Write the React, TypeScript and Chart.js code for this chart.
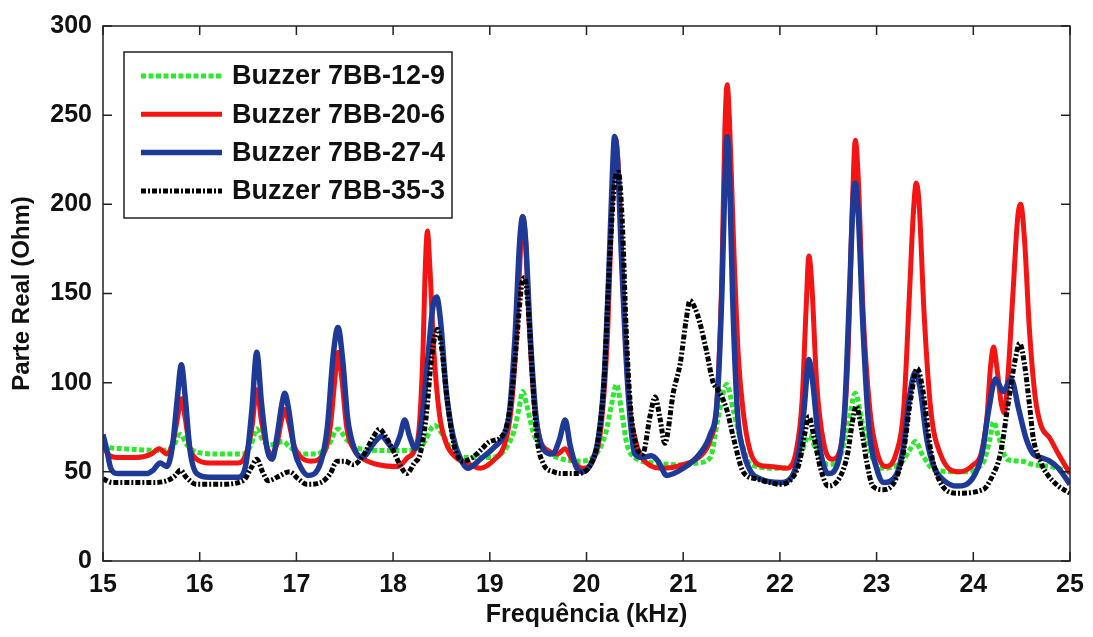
import React, { useEffect, useRef } from 'react';
import { Chart, registerables } from 'chart.js';

Chart.register(...registerables);

const FONT = '"Liberation Sans", Arial, Helvetica, sans-serif';

const seriesLabels = ['Buzzer 7BB-12-9', 'Buzzer 7BB-20-6', 'Buzzer 7BB-27-4', 'Buzzer 7BB-35-3'];
const xTickValues = [15, 16, 17, 18, 19, 20, 21, 22, 23, 24, 25];
const yTickValues = [0, 50, 100, 150, 200, 250, 300];

// Buzzer 7BB-12-9 (green dashed)
const freqA = [15.0, 15.05, 15.2, 15.6, 15.72, 15.8, 15.87, 15.97, 16.2, 16.45, 16.53, 16.59, 16.65, 16.72, 16.8, 16.86, 16.93, 17.05, 17.2, 17.32, 17.43, 17.52, 17.65, 17.9, 18.15, 18.3, 18.43, 18.52, 18.62, 18.75, 19.0, 19.15, 19.25, 19.3, 19.34, 19.38, 19.45, 19.55, 19.7, 19.93, 20.1, 20.2, 20.26, 20.31, 20.36, 20.42, 20.5, 20.7, 20.97, 21.15, 21.28, 21.36, 21.45, 21.52, 21.59, 21.7, 22.0, 22.2, 22.3, 22.38, 22.5, 22.62, 22.7, 22.78, 22.85, 22.94, 23.04, 23.25, 23.35, 23.4, 23.47, 23.6, 23.9, 24.1, 24.17, 24.21, 24.26, 24.35, 24.5, 24.62, 24.8, 25.0];
const valA = [66, 64, 63, 62, 64, 71, 65, 61, 60, 60, 65, 74, 68, 65, 66, 67, 64, 60, 60, 64, 74, 68, 63, 62, 62, 65, 76, 70, 61, 58, 58, 62, 73, 85, 95, 88, 72, 63, 58, 56, 60, 72, 88, 99, 85, 65, 58, 55, 54, 55, 58, 80, 99, 84, 69, 54, 52, 58, 70, 62, 54, 58, 75, 94, 78, 60, 52, 55, 63, 67, 60, 51, 50, 55, 68, 78, 70, 57, 56, 54, 53, 50];

// Buzzer 7BB-20-6 (red)
const freqB = [15.0, 15.05, 15.15, 15.35, 15.5, 15.58, 15.66, 15.72, 15.77, 15.81, 15.85, 15.9, 15.97, 16.1, 16.4, 16.48, 16.54, 16.59, 16.64, 16.7, 16.75, 16.8, 16.85, 16.88, 16.92, 16.98, 17.05, 17.15, 17.28, 17.35, 17.4, 17.43, 17.47, 17.52, 17.6, 17.7, 17.85, 18.05, 18.15, 18.22, 18.27, 18.31, 18.33, 18.355, 18.38, 18.42, 18.48, 18.55, 18.65, 18.8, 18.9, 19.05, 19.15, 19.22, 19.28, 19.32, 19.34, 19.37, 19.41, 19.46, 19.52, 19.6, 19.7, 19.78, 19.85, 19.96, 20.08, 20.15, 20.22, 20.27, 20.3, 20.33, 20.38, 20.44, 20.52, 20.62, 20.8, 21.0, 21.2, 21.28, 21.35, 21.4, 21.43, 21.455, 21.48, 21.52, 21.57, 21.62, 21.69, 21.78, 21.9, 22.07, 22.17, 22.23, 22.27, 22.3, 22.33, 22.38, 22.45, 22.54, 22.63, 22.7, 22.75, 22.78, 22.81, 22.86, 22.93, 23.0, 23.09, 23.2, 23.28, 23.34, 23.38, 23.41, 23.44, 23.49, 23.56, 23.66, 23.86, 24.0, 24.08, 24.14, 24.18, 24.21, 24.24, 24.29, 24.32, 24.36, 24.41, 24.46, 24.49, 24.53, 24.58, 24.64, 24.7, 24.79, 24.88, 25.0];
const valB = [67, 60, 58, 58, 60, 63, 60, 66, 80, 91, 80, 63, 57, 55, 55, 60, 75, 96, 78, 63, 60, 66, 80, 85, 78, 64, 58, 56, 60, 75, 103, 117, 102, 75, 62, 57, 54, 53, 58, 62, 75, 119, 160, 185, 165, 119, 82, 66, 58, 54, 52, 57, 65, 85, 130, 178, 193, 180, 130, 88, 68, 62, 60, 63, 57, 52, 58, 75, 130, 210, 237, 220, 150, 90, 65, 55, 52, 54, 60, 68, 90, 160, 240, 267, 245, 180, 115, 84, 62, 54, 53, 52, 62, 90, 140, 171, 155, 100, 67, 57, 64, 110, 200, 236, 215, 140, 85, 62, 53, 60, 85, 150, 195, 212, 200, 140, 85, 60, 50, 54, 60, 80, 110, 120, 110, 88, 83, 105, 150, 193, 200, 180, 130, 92, 76, 69, 60, 49];

// Buzzer 7BB-27-4 (blue)
const freqC = [15.0, 15.04, 15.08, 15.15, 15.45, 15.52, 15.59, 15.66, 15.72, 15.77, 15.81, 15.85, 15.9, 15.97, 16.1, 16.4, 16.48, 16.54, 16.59, 16.64, 16.7, 16.75, 16.8, 16.85, 16.88, 16.92, 16.98, 17.05, 17.12, 17.25, 17.32, 17.38, 17.43, 17.48, 17.53, 17.6, 17.68, 17.8, 17.88, 17.95, 18.0, 18.07, 18.12, 18.17, 18.23, 18.3, 18.37, 18.41, 18.45, 18.49, 18.55, 18.62, 18.7, 18.77, 18.9, 19.05, 19.14, 19.2, 19.26, 19.31, 19.34, 19.37, 19.42, 19.48, 19.55, 19.65, 19.72, 19.78, 19.83, 19.9, 19.96, 20.05, 20.12, 20.18, 20.23, 20.27, 20.29, 20.32, 20.37, 20.43, 20.5, 20.58, 20.67, 20.74, 20.83, 21.0, 21.17, 21.28, 21.35, 21.4, 21.43, 21.455, 21.48, 21.51, 21.56, 21.62, 21.7, 21.8, 22.0, 22.12, 22.2, 22.25, 22.3, 22.34, 22.4, 22.5, 22.6, 22.67, 22.72, 22.76, 22.78, 22.81, 22.86, 22.92, 23.0, 23.07, 23.2, 23.28, 23.34, 23.4, 23.45, 23.52, 23.6, 23.7, 23.83, 24.0, 24.09, 24.16, 24.23, 24.31, 24.39, 24.47, 24.55, 24.62, 24.7, 24.79, 24.88, 25.0];
const valC = [71, 62, 52, 49, 49, 51, 55, 53, 65, 92, 110, 92, 62, 49, 47, 47, 55, 85, 117, 88, 62, 57, 70, 88, 94, 85, 62, 52, 48, 55, 75, 115, 131, 112, 80, 63, 58, 66, 70, 66, 63, 70, 79, 70, 63, 80, 120, 142, 148, 135, 95, 70, 57, 52, 57, 64, 70, 82, 125, 180, 193, 180, 125, 80, 63, 60, 68, 79, 65, 52, 50, 55, 68, 100, 160, 220, 238, 225, 160, 95, 60, 58, 59, 56, 48, 52, 60, 71, 89, 150, 210, 238, 215, 150, 84, 62, 50, 46, 44, 47, 62, 85, 113, 100, 68, 49, 55, 85, 150, 205, 212, 195, 130, 75, 52, 44, 48, 65, 92, 106, 97, 68, 52, 45, 42, 47, 60, 85, 102, 95, 102, 85, 68, 60, 58, 56, 52, 43];

// Buzzer 7BB-35-3 (black dash-dot)
const freqD = [15.0, 15.1, 15.5, 15.66, 15.75, 15.8, 15.86, 15.97, 16.2, 16.45, 16.53, 16.59, 16.65, 16.71, 16.8, 16.93, 17.02, 17.11, 17.25, 17.35, 17.42, 17.5, 17.59, 17.7, 17.8, 17.86, 17.92, 18.0, 18.08, 18.14, 18.22, 18.28, 18.34, 18.4, 18.46, 18.5, 18.56, 18.63, 18.72, 18.82, 18.92, 19.0, 19.14, 19.22, 19.28, 19.33, 19.36, 19.4, 19.45, 19.49, 19.55, 19.66, 19.76, 19.9, 20.05, 20.12, 20.18, 20.24, 20.29, 20.33, 20.37, 20.41, 20.45, 20.5, 20.58, 20.66, 20.71, 20.76, 20.81, 20.9, 20.97, 21.03, 21.07, 21.12, 21.17, 21.24, 21.31, 21.35, 21.45, 21.52, 21.62, 21.76, 21.9, 22.0, 22.12, 22.2, 22.26, 22.3, 22.35, 22.42, 22.5, 22.62, 22.7, 22.75, 22.79, 22.84, 22.9, 22.96, 23.07, 23.2, 23.28, 23.35, 23.42, 23.48, 23.56, 23.65, 23.83, 24.1, 24.2, 24.28, 24.36, 24.43, 24.48, 24.53, 24.58, 24.62, 24.7, 24.76, 24.88, 25.0];
const valD = [46, 44, 44, 45, 48, 51, 47, 43, 43, 45, 52, 57, 50, 45, 47, 50, 46, 43, 44, 49, 56, 56, 54, 60, 70, 74, 70, 62, 53, 49, 55, 60, 80, 115, 130, 120, 90, 65, 56, 58, 63, 67, 71, 90, 125, 155, 159, 140, 95, 68, 55, 50, 49, 49, 55, 68, 100, 170, 212, 218, 190, 130, 90, 68, 60, 82, 92, 80, 66, 95, 111, 135, 146, 142, 134, 118, 100, 97, 85, 69, 50, 46, 44, 43, 46, 55, 72, 81, 70, 52, 42, 47, 60, 78, 87, 75, 55, 42, 40, 46, 62, 90, 108, 95, 62, 45, 38, 40, 48, 60, 88, 112, 122, 110, 88, 69, 55, 49, 42, 38];

const seriesFreqs = [freqA, freqB, freqC, freqD];
const seriesValues = [valA, valB, valC, valD];
const seriesColors = ['#2ee82e', '#f41414', '#1f3a96', '#000000'];
const seriesDashes = [[5, 2.5], [], [], [5, 2, 2, 2]];
const seriesWidths = [5, 5, 5.5, 5];

const frameTicksPlugin = {
  id: 'frameTicks',
  afterDatasetsDraw(chart: any) {
    const { ctx, chartArea: a, scales } = chart;
    ctx.save();
    ctx.strokeStyle = '#222';
    ctx.lineWidth = 1.5;
    ctx.setLineDash([]);
    const len = 9;
    ctx.beginPath();
    scales.x.ticks.forEach((t: any) => {
      const px = scales.x.getPixelForValue(t.value);
      ctx.moveTo(px, a.bottom); ctx.lineTo(px, a.bottom - len);
      ctx.moveTo(px, a.top); ctx.lineTo(px, a.top + len);
    });
    scales.y.ticks.forEach((t: any) => {
      const py = scales.y.getPixelForValue(t.value);
      ctx.moveTo(a.left, py); ctx.lineTo(a.left + len, py);
      ctx.moveTo(a.right, py); ctx.lineTo(a.right - len, py);
    });
    ctx.stroke();
    ctx.strokeRect(a.left, a.top, a.right - a.left, a.bottom - a.top);
    ctx.restore();
  },
};

const boxLegendPlugin = {
  id: 'boxLegend',
  afterDraw(chart: any) {
    const { ctx, chartArea: a } = chart;
    const x0 = a.left + 21, y0 = a.top + 26, w = 328, h = 166;
    ctx.save();
    ctx.fillStyle = '#fff';
    ctx.fillRect(x0, y0, w, h);
    ctx.strokeStyle = '#222';
    ctx.lineWidth = 1.5;
    ctx.setLineDash([]);
    ctx.strokeRect(x0, y0, w, h);
    ctx.font = `bold 27px ${FONT}`;
    ctx.textBaseline = 'middle';
    ctx.textAlign = 'left';
    chart.data.datasets.forEach((ds: any, i: number) => {
      const cy = y0 + 24 + i * 38.3;
      ctx.strokeStyle = ds.borderColor;
      ctx.lineWidth = ds.borderWidth;
      ctx.setLineDash(ds.borderDash || []);
      ctx.beginPath();
      ctx.moveTo(x0 + 17, cy);
      ctx.lineTo(x0 + 98, cy);
      ctx.stroke();
      ctx.setLineDash([]);
      ctx.fillStyle = '#111';
      ctx.fillText(ds.label, x0 + 108, cy + 1);
    });
    ctx.restore();
  },
};

export default function App() {
  const canvasRef = useRef<HTMLCanvasElement | null>(null);

  useEffect(() => {
    if (!canvasRef.current) return;
    const datasets = seriesLabels.map((label, i) => ({
      label,
      data: seriesFreqs[i].map((f, j) => ({ x: f, y: seriesValues[i][j] })),
      borderColor: seriesColors[i],
      backgroundColor: seriesColors[i],
      borderWidth: seriesWidths[i],
      borderDash: seriesDashes[i],
      pointRadius: 0,
      fill: false,
      cubicInterpolationMode: 'monotone' as const,
      order: 3 - i,
    }));

    const chart = new Chart(canvasRef.current, {
      type: 'line',
      data: { datasets },
      options: {
        animation: false,
        responsive: false,
        maintainAspectRatio: false,
        layout: { padding: { top: 20, right: 23, left: 0, bottom: 0 } },
        plugins: { legend: { display: false }, tooltip: { enabled: false } },
        scales: {
          x: {
            type: 'linear',
            min: 15,
            max: 25,
            afterBuildTicks: (scale: any) => {
              scale.ticks = xTickValues.map((v) => ({ value: v }));
            },
            afterFit: (scale: any) => { scale.height = 76; },
            grid: { display: false, drawTicks: false },
            border: { display: false },
            ticks: {
              padding: 9,
              color: '#111',
              font: { family: FONT, size: 25, weight: 'bold' },
              maxRotation: 0,
            },
            title: {
              display: true,
              text: 'Frequência (kHz)',
              color: '#111',
              font: { family: FONT, size: 25, weight: 'bold' },
              padding: { top: 0, bottom: 7 },
            },
          },
          y: {
            type: 'linear',
            min: 0,
            max: 300,
            afterBuildTicks: (scale: any) => {
              scale.ticks = yTickValues.map((v) => ({ value: v }));
            },
            afterFit: (scale: any) => { scale.width = 103; },
            grid: { display: false, drawTicks: false },
            border: { display: false },
            ticks: {
              padding: 11,
              color: '#111',
              font: { family: FONT, size: 25, weight: 'bold' },
            },
            title: {
              display: true,
              text: 'Parte Real (Ohm)',
              color: '#111',
              font: { family: FONT, size: 24, weight: 'bold' },
              padding: { top: 8, bottom: 0 },
            },
          },
        },
      },
      plugins: [frameTicksPlugin, boxLegendPlugin],
    });
    return () => chart.destroy();
  }, []);

  return (
    <div style={{ position: 'absolute', left: 0, top: 0, width: 1093, height: 637, background: '#fff' }}>
      <canvas ref={canvasRef} width={1093} height={637} style={{ width: 1093, height: 637 }} />
    </div>
  );
}
